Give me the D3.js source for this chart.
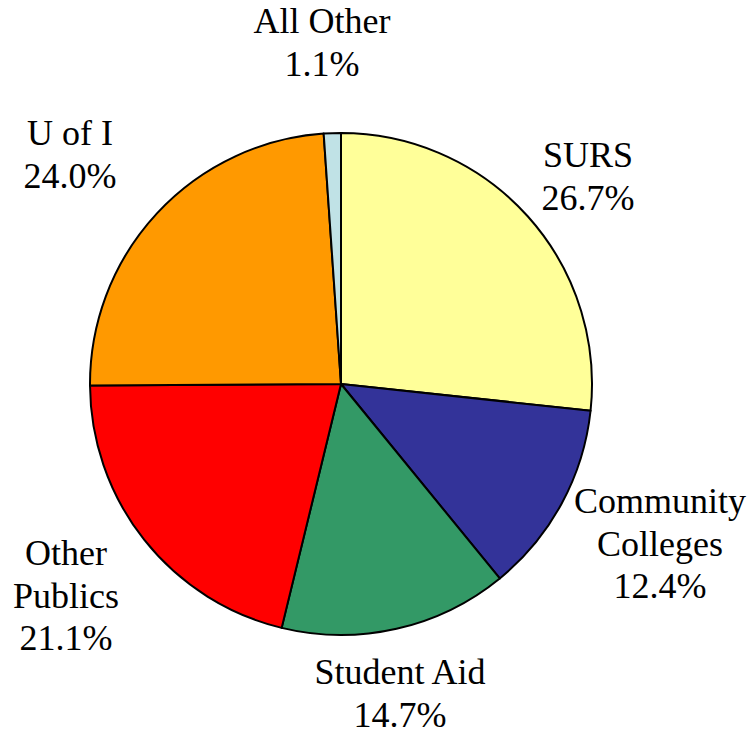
<!DOCTYPE html>
<html>
<head>
<meta charset="utf-8">
<script src="https://cdn.jsdelivr.net/npm/d3@7"></script>
<style>
  body { margin: 0; background: #fff; }
</style>
</head>
<body>
<div id="chart"></div>
<script>
var width = 753,
    height = 735;

// slices, clockwise from 12 o'clock
var names = ["SURS", "Community Colleges", "Student Aid", "Other Publics", "U of I", "All Other"];
var values = [26.7, 12.4, 14.7, 21.1, 24.0, 1.1];
var labelLines = [["SURS"], ["Community", "Colleges"], ["Student Aid"], ["Other", "Publics"], ["U of I"], ["All Other"]];
var colors = ["#FFFF99", "#333399", "#339966", "#FF0000", "#FF9900", "#C0E2E6"];

// label anchor (x centre, first baseline)
var labelPos = [[588, 167], [660, 513], [400, 684], [66, 565], [70, 145], [322, 33]];

var cx = 341, cy = 384, r = 251;

var svg = d3.select("#chart").append("svg")
    .attr("width", width)
    .attr("height", height);

var pie = d3.pie().sort(null).value(function(d) { return d; });
var arc = d3.arc().innerRadius(0).outerRadius(r);

var g = svg.append("g").attr("transform", "translate(" + cx + "," + cy + ")");

g.selectAll("path")
  .data(pie(values))
  .enter()
  .append("path")
  .attr("d", arc)
  .style("fill", function(d, i) { return colors[i]; })
  .style("stroke", "#000")
  .style("stroke-width", 2)
  .style("stroke-linejoin", "round");

// labels
var lab = svg.selectAll("text.lab")
  .data(names)
  .enter()
  .append("text")
  .attr("class", "lab")
  .attr("text-anchor", "middle")
  .attr("font-family", "'Liberation Serif', 'Times New Roman', Times, 'DejaVu Serif', serif")
  .attr("font-size", 36)
  .attr("fill", "#000")
  .attr("x", function(d, i) { return labelPos[i][0]; })
  .attr("y", function(d, i) { return labelPos[i][1]; });

lab.each(function(d, i) {
  var t = d3.select(this);
  var lines = labelLines[i].concat([values[i].toFixed(1) + "%"]);
  lines.forEach(function(s, j) {
    t.append("tspan")
      .attr("x", labelPos[i][0])
      .attr("dy", j === 0 ? 0 : 42.5)
      .text(s);
  });
});
</script>
</body>
</html>
